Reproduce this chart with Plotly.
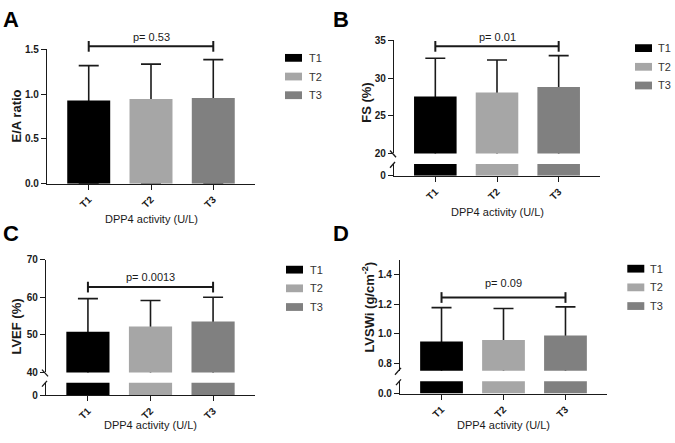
import plotly.graph_objects as go

W, H = 675, 443

# ---------------- data ----------------
groups = ["T1", "T2", "T3"]
colors = ["#000000", "#a6a6a6", "#808080"]

ea_mean = [0.93, 0.946, 0.957]
ea_sd = [0.39, 0.39, 0.43]

fs_mean = [27.56, 28.08, 28.82]
fs_sd = [5.06, 4.32, 4.15]

lvef_mean = [50.86, 52.26, 53.55]
lvef_sd = [8.79, 6.88, 6.45]

lvswi_mean = [0.948, 0.959, 0.988]
lvswi_sd = [0.229, 0.212, 0.194]

p_values = ["0.53", "0.01", "0.0013", "0.09"]
x_title = "DPP4 activity (U/L)"

FONT = "Arial, Liberation Sans, sans-serif"
INK = "#1a1a1a"


def fx(p):
    return p / W


def fy(p):
    return 1 - p / H


panels = [
    dict(letter="A", means=ea_mean, sds=ea_sd, p=p_values[0], ytitle="E/A ratio",
         x0=47, x1=255, up=(182.7, 44.7), up_range=[0, 1.5], up_ticks=[0, 0.5, 1.0, 1.5],
         fmt=".1f", low=None, low_text="", bracket=1.535, letter_xy=(10.5, 13.5),
         ytitle_xy=(16.5, 113), xtitle_y=219, p_y=31.5, legend=(285, 53.3, 307),
         slash="none"),
    dict(letter="B", means=fs_mean, sds=fs_sd, p=p_values[1], ytitle="FS (%)",
         x0=394, x1=600, up=(151.5, 35.3), up_range=[20, 35], up_ticks=[20, 25, 30, 35],
         fmt="d", low=(174.5, 162.3), low_text="0", bracket=34.2, letter_xy=(341, 13.5),
         ytitle_xy=(366.5, 100), xtitle_y=212, p_y=31.5, legend=(635, 43.3, 656),
         slash="bc"),
    dict(letter="C", means=lvef_mean, sds=lvef_sd, p=p_values[2], ytitle="LVEF (%)",
         x0=46, x1=255, up=(376.7, 260.7), up_range=[40, 70], up_ticks=[40, 50, 60, 70],
         fmt="d", low=(400, 387.3), low_text="0", bracket=62.7, letter_xy=(10.5, 234),
         ytitle_xy=(16.5, 330), xtitle_y=431, p_y=279, legend=(286, 271, 308),
         slash="bc"),
    dict(letter="D", means=lvswi_mean, sds=lvswi_sd, p=p_values[3],
         ytitle="LVSWi (g/cm<sup>-2</sup>)",
         x0=400, x1=607, up=(375, 260.8), up_range=[0.75, 1.5], up_ticks=[0.8, 1.0, 1.2, 1.4],
         fmt=".1f", low=(398.3, 385.7), low_text="0.0", bracket=1.245, letter_xy=(341, 234),
         ytitle_xy=(368, 310), xtitle_y=431, p_y=285, legend=(627.3, 270, 648),
         slash="d"),
]

XR = [-0.67, 2.67]
BAR_W = 0.69
LEG_STEP = 19.2
SW_W, SW_H = 17, 8

fig = go.Figure()
layout = dict(
    width=W, height=H, autosize=False,
    margin=dict(l=0, r=0, t=0, b=0),
    paper_bgcolor="white", plot_bgcolor="white",
    barmode="overlay", showlegend=False,
    font=dict(family=FONT, color=INK),
)
shapes = []
annotations = []

axis_line = dict(showline=True, linecolor=INK, linewidth=1.3, ticks="outside",
                 ticklen=5, tickwidth=1.3, tickcolor=INK, showgrid=False,
                 zeroline=False, fixedrange=True)
tickfont = dict(family=FONT, size=10, color=INK, weight="bold")

yidx = 1
for k, pn in enumerate(panels):
    xi = k + 1
    xname = "x" if xi == 1 else f"x{xi}"
    xkey = "xaxis" if xi == 1 else f"xaxis{xi}"
    up_i = yidx
    yidx += 1
    upname = "y" if up_i == 1 else f"y{up_i}"
    upkey = "yaxis" if up_i == 1 else f"yaxis{up_i}"
    lowname = None
    if pn["low"] is not None:
        low_i = yidx
        yidx += 1
        lowname = f"y{low_i}"
        lowkey = f"yaxis{low_i}"

    # axes
    layout[xkey] = dict(axis_line, domain=[fx(pn["x0"]), fx(pn["x1"])], range=XR,
                        type="category", categoryorder="array", categoryarray=groups,
                        tickangle=-45, anchor=lowname or upname, tickfont=tickfont)
    ub, ut = pn["up"]
    layout[upkey] = dict(axis_line, domain=[fy(ub), fy(ut)], range=pn["up_range"],
                         tickvals=pn["up_ticks"], tickformat=pn["fmt"], anchor=xname,
                         tickfont=tickfont)
    if lowname:
        lb, lt = pn["low"]
        layout[lowkey] = dict(axis_line, domain=[fy(lb), fy(lt)],
                              range=[0, pn["up_range"][0] / 10], tickvals=[0],
                              ticktext=[pn["low_text"]], anchor=xname, tickfont=tickfont)

    # bars (an error-bar carrier drawn first, then the bar on top so only the
    # upper whisker shows, as in the reference)
    for i, g in enumerate(groups):
        fig.add_trace(go.Bar(
            x=[g], y=[pn["means"][i]], width=BAR_W, name=g,
            marker=dict(color="rgba(0,0,0,0)", line=dict(width=0)),
            error_y=dict(type="data", symmetric=False, array=[pn["sds"][i]],
                         arrayminus=[pn["means"][i]], color=INK, thickness=1.6, width=10),
            xaxis=xname, yaxis=upname, showlegend=False, hoverinfo="skip",
        ))
        fig.add_trace(go.Bar(
            x=[g], y=[pn["means"][i]], width=BAR_W, name=g,
            marker=dict(color=colors[i], line=dict(width=0)),
            xaxis=xname, yaxis=upname, showlegend=False,
        ))
        if lowname:
            fig.add_trace(go.Bar(
                x=[g], y=[pn["means"][i]], width=BAR_W, name=g,
                marker=dict(color=colors[i], line=dict(width=0)),
                xaxis=xname, yaxis=lowname, showlegend=False, hoverinfo="skip",
            ))

    # legend (swatch + label per group)
    sx, sy, tx_ = pn["legend"]
    for i, g in enumerate(groups):
        cy = sy + i * LEG_STEP
        shapes.append(dict(type="rect", xref="paper", yref="paper",
                           x0=fx(sx), x1=fx(sx + SW_W), y0=fy(cy - SW_H / 2), y1=fy(cy + SW_H / 2),
                           fillcolor=colors[i], line=dict(width=0)))
        annotations.append(dict(text=g, xref="paper", yref="paper", x=fx(tx_), y=fy(cy),
                                showarrow=False, xanchor="left", yanchor="middle",
                                font=dict(family=FONT, size=11, color="#333")))

    # significance bracket (domain coords computed from categories / axis range)
    r0, r1 = XR
    xa = (0 - r0) / (r1 - r0)
    xb = (2 - r0) / (r1 - r0)
    y0r, y1r = pn["up_range"]
    yb = (pn["bracket"] - y0r) / (y1r - y0r)
    hpx = ub - ut
    tick = 5.5 / hpx
    xref = f"{xname} domain"
    yref = f"{upname} domain"
    ln = dict(color=INK, width=2)
    shapes.append(dict(type="line", xref=xref, yref=yref, x0=xa, x1=xb, y0=yb, y1=yb, line=ln))
    shapes.append(dict(type="line", xref=xref, yref=yref, x0=xa, x1=xa, y0=yb - tick, y1=yb + tick, line=ln))
    shapes.append(dict(type="line", xref=xref, yref=yref, x0=xb, x1=xb, y0=yb - tick, y1=yb + tick, line=ln))

    # axis break marks
    ax = pn["x0"]
    sl = dict(color=INK, width=1.3)
    if pn["slash"] == "bc":
        lb, lt = pn["low"]
        shapes.append(dict(type="line", xref="paper", yref="paper",
                           x0=fx(ax - 4), y0=fy(ub - 3), x1=fx(ax + 2), y1=fy(ub + 4), line=sl))
        shapes.append(dict(type="line", xref="paper", yref="paper",
                           x0=fx(ax - 4), y0=fy(lt + 4), x1=fx(ax + 1), y1=fy(lt - 2), line=sl))
    elif pn["slash"] == "d":
        lb, lt = pn["low"]
        shapes.append(dict(type="line", xref="paper", yref="paper",
                           x0=fx(ax - 5), y0=fy(ub + 4), x1=fx(ax + 1), y1=fy(ub - 3), line=sl))
        shapes.append(dict(type="line", xref="paper", yref="paper",
                           x0=fx(ax - 4), y0=fy(lt + 4), x1=fx(ax + 1), y1=fy(lt - 2), line=sl))

    # texts
    annotations.append(dict(text=f"p= {pn['p']}", xref=xref, yref="paper",
                            x=(xa + xb) / 2, y=fy(pn["p_y"]), showarrow=False,
                            xanchor="center", yanchor="middle",
                            font=dict(family=FONT, size=11, color=INK)))
    lxp, lyp = pn["letter_xy"]
    annotations.append(dict(text=pn["letter"], xref="paper", yref="paper",
                            x=fx(lxp), y=fy(lyp), showarrow=False,
                            xanchor="center", yanchor="middle",
                            font=dict(family=FONT, size=22, color="#000", weight="bold")))
    tx, ty = pn["ytitle_xy"]
    annotations.append(dict(text=pn["ytitle"], xref="paper", yref="paper",
                            x=fx(tx), y=fy(ty), showarrow=False, textangle=-90,
                            xanchor="center", yanchor="middle",
                            font=dict(family=FONT, size=13, color=INK, weight="bold")))
    annotations.append(dict(text=x_title, xref="paper", yref="paper",
                            x=fx((pn["x0"] + pn["x1"]) / 2), y=fy(pn["xtitle_y"]),
                            showarrow=False, xanchor="center", yanchor="middle",
                            font=dict(family=FONT, size=11, color=INK)))

layout["shapes"] = shapes
layout["annotations"] = annotations
fig.update_layout(**layout)
fig.write_html(
    "out.html",
    config={"displayModeBar": False},
    post_script="document.body.style.margin='0';document.body.style.overflow='hidden';",
)
